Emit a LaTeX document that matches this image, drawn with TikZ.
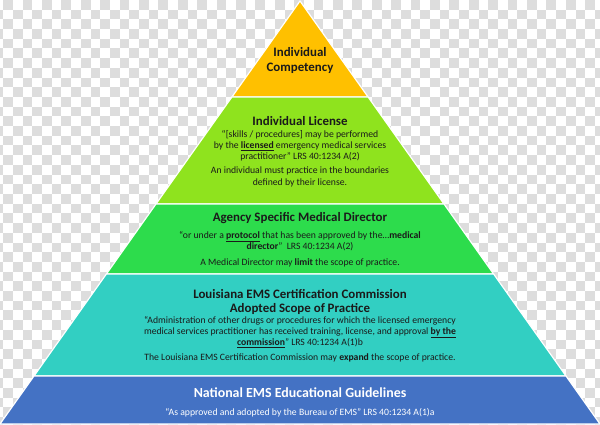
\documentclass[tikz,border=0pt]{standalone}
\usepackage{fontspec}
\setmainfont{Carlito}
\definecolor{cgold}{HTML}{FFC000}
\definecolor{clime}{HTML}{8FE31E}
\definecolor{cgreen}{HTML}{2DDC4C}
\definecolor{cteal}{HTML}{32CFC2}
\definecolor{cblue}{HTML}{4472C4}
\definecolor{cchk}{HTML}{DDDDDD}
\definecolor{ctext}{HTML}{1A1A1A}
\begin{document}
\begin{tikzpicture}[x=1pt,y=-1pt,
  band/.style={draw=white,line width=1.2pt,line join=miter},
  ttl/.style={anchor=base,inner sep=0pt,text=ctext,font=\fontsize{12.9}{15}\selectfont\bfseries},
  bdy/.style={anchor=base,inner sep=0pt,text=ctext,font=\fontsize{9.7}{11}\selectfont}]
\useasboundingbox (0,0) rectangle (600,425);
\clip (0,0) rectangle (600,425);
% checkerboard background
\fill[white] (0,0) rectangle (600,425);
\foreach \j in {0,...,43}{
  \pgfmathtruncatemacro\off{1-mod(\j,2)}
  \foreach \i in {0,2,...,62}{
    \pgfmathsetmacro\xx{3.2+(\i+\off-1)*9.7}
    \pgfmathsetmacro\yy{\j*9.7}
    \fill[cchk] (\xx,\yy) rectangle ++(9.7,9.7);
  }
}
% pyramid bands
\coordinate (apex) at (300,1);
\coordinate (l1) at (231.9,97);  \coordinate (r1) at (368.1,97);
\coordinate (l2) at (156.0,204); \coordinate (r2) at (444.0,204);
\coordinate (l3) at (106.4,274); \coordinate (r3) at (493.6,274);
\coordinate (l4) at (34.0,376);  \coordinate (r4) at (566.0,376);
\coordinate (l5) at (0,424);     \coordinate (r5) at (600,424);
\filldraw[band,fill=cgold]  (apex) -- (r1) -- (l1) -- cycle;
\filldraw[band,fill=clime]  (l1) -- (r1) -- (r2) -- (l2) -- cycle;
\filldraw[band,fill=cgreen] (l2) -- (r2) -- (r3) -- (l3) -- cycle;
\filldraw[band,fill=cteal]  (l3) -- (r3) -- (r4) -- (l4) -- cycle;
\filldraw[band,fill=cblue]  (l4) -- (r4) -- (r5) -- (l5) -- cycle;
% Individual Competency
\node[ttl] (c1) at (300,56.5) {Individual};
\node[ttl] (c2) at (300,71.5) {Competency};
% Individual License
\node[ttl] (t2) at (300,125.5) {Individual License};
\node[bdy] (b21) at (300,137.3) {“[skills / procedures] may be performed};
\node[bdy] (b22) at (300,148.3) {by the \textbf{\underline{licensed}} emergency medical services};
\node[bdy] (b23) at (300,159.3) {practitioner” LRS 40:1234 A(2)};
\node[bdy] (b24) at (300,173.3) {An individual must practice in the boundaries};
\node[bdy] (b25) at (300,185.3) {defined by their license.};
% Agency Specific Medical Director
\node[ttl] (t3) at (300,221.5) {Agency Specific Medical Director};
\node[bdy] (b31) at (300,238.3) {“or under a \textbf{\underline{protocol}} that has been approved by the…\textbf{medical}};
\node[bdy] (b32) at (300,249.3) {\textbf{director}”~~LRS 40:1234 A(2)};
\node[bdy] (b33) at (300,265.3) {A Medical Director may \textbf{limit} the scope of practice.};
% Louisiana
\node[ttl] (t41) at (300,298.5) {Louisiana EMS Certification Commission};
\node[ttl] (t42) at (300,312.5) {Adopted Scope of Practice};
\node[bdy] (b41) at (300,323.3) {“Administration of other drugs or procedures for which the licensed emergency};
\node[bdy] (b42) at (300,334.3) {medical services practitioner has received training, license, and approval \textbf{\underline{by the}}};
\node[bdy] (b43) at (300,345.3) {\textbf{\underline{commission}}” LRS 40:1234 A(1)b};
\node[bdy] (b44) at (300,360.3) {The Louisiana EMS Certification Commission may \textbf{expand} the scope of practice.};
% National
\node[ttl,text=white,font=\fontsize{13.9}{16}\selectfont\bfseries] (t5) at (300,397.6) {National EMS Educational Guidelines};
\node[bdy,text=white] (b51) at (300,415.3) {“As approved and adopted by the Bureau of EMS” LRS 40:1234 A(1)a};
\end{tikzpicture}
\end{document}
